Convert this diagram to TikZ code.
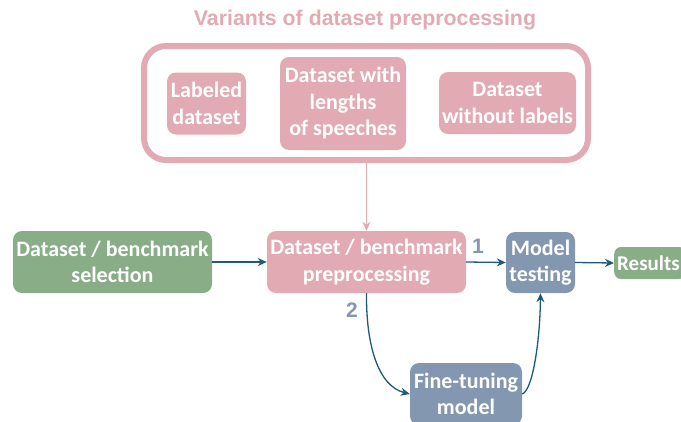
\documentclass[tikz,border=0pt]{standalone}
\usepackage{fontspec}
\setmainfont{Carlito}
\newfontfamily\titlefont{Liberation Sans}
\usetikzlibrary{arrows.meta}
\definecolor{pinkc}{HTML}{E2AAB3}
\definecolor{greenc}{HTML}{88AD87}
\definecolor{bluec}{HTML}{8497B0}
\definecolor{arrowc}{HTML}{1E5A7A}
\tikzset{
  box/.style={rounded corners=9pt, text=white, align=center, inner sep=0pt,
    font=\fontsize{22}{26.5}\selectfont\bfseries},
  pinkbox/.style={box, fill=pinkc},
  greenbox/.style={box, fill=greenc},
  bluebox/.style={box, fill=bluec},
  conn/.style={draw=arrowc, line width=1.3pt, -{Stealth[length=9pt,width=8pt]}},
  pconn/.style={draw=pinkc, line width=1.3pt, -{Stealth[length=9pt,width=8pt]}},
  numlbl/.style={text=bluec, font=\titlefont\fontsize{21}{24}\selectfont\bfseries, inner sep=0pt}
}
\begin{document}
\begin{tikzpicture}[x=1pt,y=-1pt]
\useasboundingbox (0,0) rectangle (681,421);
\clip (0,0) rectangle (681,421);
\node[text=pinkc, font=\titlefont\fontsize{21.3}{25}\selectfont\bfseries, inner sep=0pt] (title) at (365,20) {Variants of dataset preprocessing};
\node[draw=pinkc, line width=6pt, rounded corners=22pt, minimum width=444pt, minimum height=114pt, inner sep=0pt] (outer) at (366,103) {};
\node[pinkbox, minimum width=79pt, minimum height=62pt] (lab) at (206.5,103.5) {Labeled\\dataset};
\node[pinkbox, minimum width=126pt, minimum height=93pt] (len) at (343,103.5) {Dataset with\\lengths\\of speeches};
\node[pinkbox, minimum width=137pt, minimum height=62pt] (nol) at (507.5,103) {Dataset\\without labels};
\node[greenbox, minimum width=199pt, minimum height=62pt] (sel) at (112.5,262) {Dataset / benchmark\\selection};
\node[pinkbox, minimum width=199pt, minimum height=62pt] (prep) at (366.5,262) {Dataset / benchmark\\preprocessing};
\node[bluebox, minimum width=69pt, minimum height=61pt] (test) at (540.5,262.5) {Model\\testing};
\node[greenbox, text width=66pt, align=left, inner xsep=3pt, minimum height=32pt, rounded corners=7pt, anchor=west, font=\fontsize{21}{25}\selectfont\bfseries] (res) at (614,263) {Results};
\node[bluebox, minimum width=112pt, minimum height=62pt] (ft) at (466,394) {Fine-tuning\\model};
\node[numlbl] (one) at (478,246) {1};
\node[numlbl] (two) at (352,310) {2};
\draw[pconn] (outer.south -| prep.north) -- (prep.north);
\draw[conn] (sel.east) -- (prep.west);
\draw[conn] (prep.east) -- (test.west);
\draw[conn] (test.east) -- (res.west);
\draw[conn] (prep.south) .. controls (366,345) and (378,386) .. (ft.west);
\draw[conn] (ft.east) .. controls (533,390) and (540,340) .. (test.south);
\end{tikzpicture}
\end{document}
